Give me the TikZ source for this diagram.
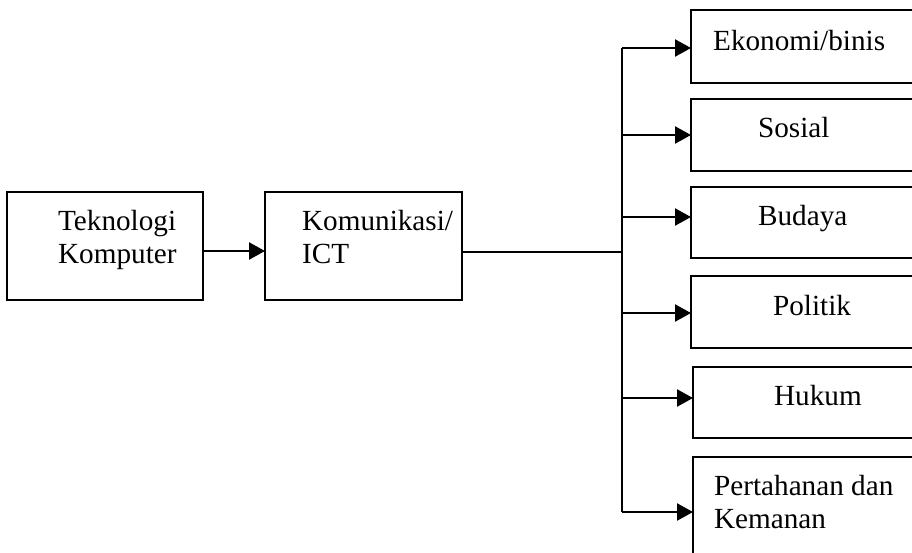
\documentclass[tikz,border=0pt]{standalone}
\usepackage{fontspec}
\setmainfont{Liberation Serif}
\usetikzlibrary{arrows.meta}
\begin{document}
\begin{tikzpicture}[x=1pt,y=-1pt,line width=2.3pt,
  box/.style={draw,rectangle,line width=2.3pt,inner sep=0pt,outer sep=0pt,anchor=north west},
  lbl/.style={anchor=base west,inner sep=0pt,font=\fontsize{29.2}{34}\selectfont},
  arr/.style={-{Triangle[length=16pt,width=17pt]}}]
\useasboundingbox (0,0) rectangle (912,552);
% boxes
\node[box,minimum width=196pt,minimum height=108pt] (tk) at (7,192) {};
\node[box,minimum width=197pt,minimum height=108pt] (ict) at (265,192) {};
\node[box,minimum width=260pt,minimum height=73pt] (b1) at (691,10) {};
\node[box,minimum width=260pt,minimum height=72pt] (b2) at (691,99) {};
\node[box,minimum width=260pt,minimum height=71pt] (b3) at (691,187) {};
\node[box,minimum width=260pt,minimum height=72pt] (b4) at (691,276) {};
\node[box,minimum width=260pt,minimum height=71pt] (b5) at (693,367) {};
\node[box,minimum width=260pt,minimum height=120pt] (b6) at (693,457) {};
% texts
\node[lbl] (t-tk1) at (57,230) {Teknologi};
\node[lbl] (t-tk2) at (57,263) {Komputer};
\node[lbl] (t-ict1) at (301,230) {Komunikasi/};
\node[lbl] (t-ict2) at (301,263) {ICT};
\node[lbl] (t-b1) at (712,50) {Ekonomi/binis};
\node[lbl] (t-b2) at (757,137) {Sosial};
\node[lbl] (t-b3) at (757,225) {Budaya};
\node[lbl] (t-b4) at (772,315) {Politik};
\node[lbl] (t-b5) at (773,405) {Hukum};
\node[lbl] (t-b6a) at (713,495) {Pertahanan dan};
\node[lbl] (t-b6b) at (713,528) {Kemanan};
% connectors
\coordinate (j) at (622,252);
\coordinate (c1) at (622,48);
\coordinate (c2) at (622,135);
\coordinate (c3) at (622,217);
\coordinate (c4) at (622,313);
\coordinate (c5) at (622,398);
\coordinate (c6) at (622,512);
\draw[arr] (tk.east |- 0,251) -- (ict.west |- 0,251);
\draw (ict.east |- j) -- (j);
\draw (c1) -- (c6);
\draw[arr] (c1) -- (b1.west |- c1);
\draw[arr] (c2) -- (b2.west |- c2);
\draw[arr] (c3) -- (b3.west |- c3);
\draw[arr] (c4) -- (b4.west |- c4);
\draw[arr] (c5) -- (b5.west |- c5);
\draw[arr] (c6) -- (b6.west |- c6);
\end{tikzpicture}
\end{document}
